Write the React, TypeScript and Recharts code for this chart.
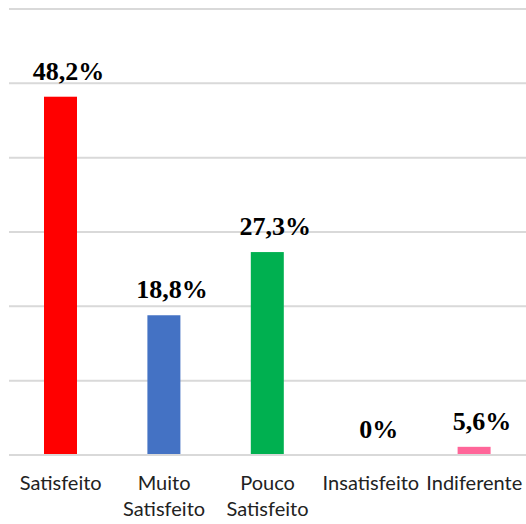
import React from "react";
import { BarChart, Bar, XAxis, YAxis, CartesianGrid, Cell } from "recharts";

const categories = ["Satisfeito", "Muito\nSatisfeito", "Pouco\nSatisfeito", "Insatisfeito", "Indiferente"];
const values = [48.2, 18.8, 27.3, 0, 1.1];
const labels = ["48,2%", "18,8%", "27,3%", "0%", "5,6%"];
const colors = ["#ff0000", "#4472c4", "#00b050", "#ff0000", "#ff6699"];
const yTicks = [0, 10, 20, 30, 40, 50, 60];

const data = categories.map((name, i) => ({ name, value: values[i], label: labels[i] }));

const CategoryTick = ({ x, y, payload }: any) => {
  const lines = String(payload.value).split("\n");
  return (
    <text
      x={x}
      y={y}
      textAnchor="middle"
      fill="#222"
      fontSize={20}
      fontFamily="Lato, 'Open Sans', sans-serif"
    >
      {lines.map((line, i) => (
        <tspan key={i} x={x} dy={i === 0 ? 27 : 26}>
          {line}
        </tspan>
      ))}
    </text>
  );
};

// bar + value label drawn together so the 0% label still shows
const LabeledBar = (props: any) => {
  const { x, y, width, height, fill, payload } = props;
  return (
    <g>
      {height > 0 && <rect x={x} y={y} width={width} height={height} fill={fill} />}
      <text
        x={x + width / 2 + 8}
        y={y - 17}
        textAnchor="middle"
        fill="#000"
        fontSize={26}
        fontWeight="bold"
        fontFamily="'Liberation Serif', 'Times New Roman', serif"
      >
        {payload.label}
      </text>
    </g>
  );
};

export default function App() {
  return (
    <div style={{ width: 526, height: 524, background: "#fff" }}>
      <style>{"body{margin:0}"}</style>
      <BarChart
        width={526}
        height={524}
        data={data}
        margin={{ top: 9, right: 0, left: 9, bottom: 0 }}
        barCategoryGap="0%"
      >
        <CartesianGrid vertical={false} stroke="#d9d9d9" strokeWidth={2} />
        <XAxis
          dataKey="name"
          interval={0}
          tickLine={false}
          axisLine={{ stroke: "#d9d9d9", strokeWidth: 2 }}
          tick={<CategoryTick />}
          height={69}
        />
        <YAxis hide domain={[0, 60]} ticks={yTicks} />
        <Bar dataKey="value" barSize={33} isAnimationActive={false} shape={<LabeledBar />}>
          {data.map((entry, i) => (
            <Cell key={`cell-${i}`} fill={colors[i]} />
          ))}
        </Bar>
      </BarChart>
    </div>
  );
}
